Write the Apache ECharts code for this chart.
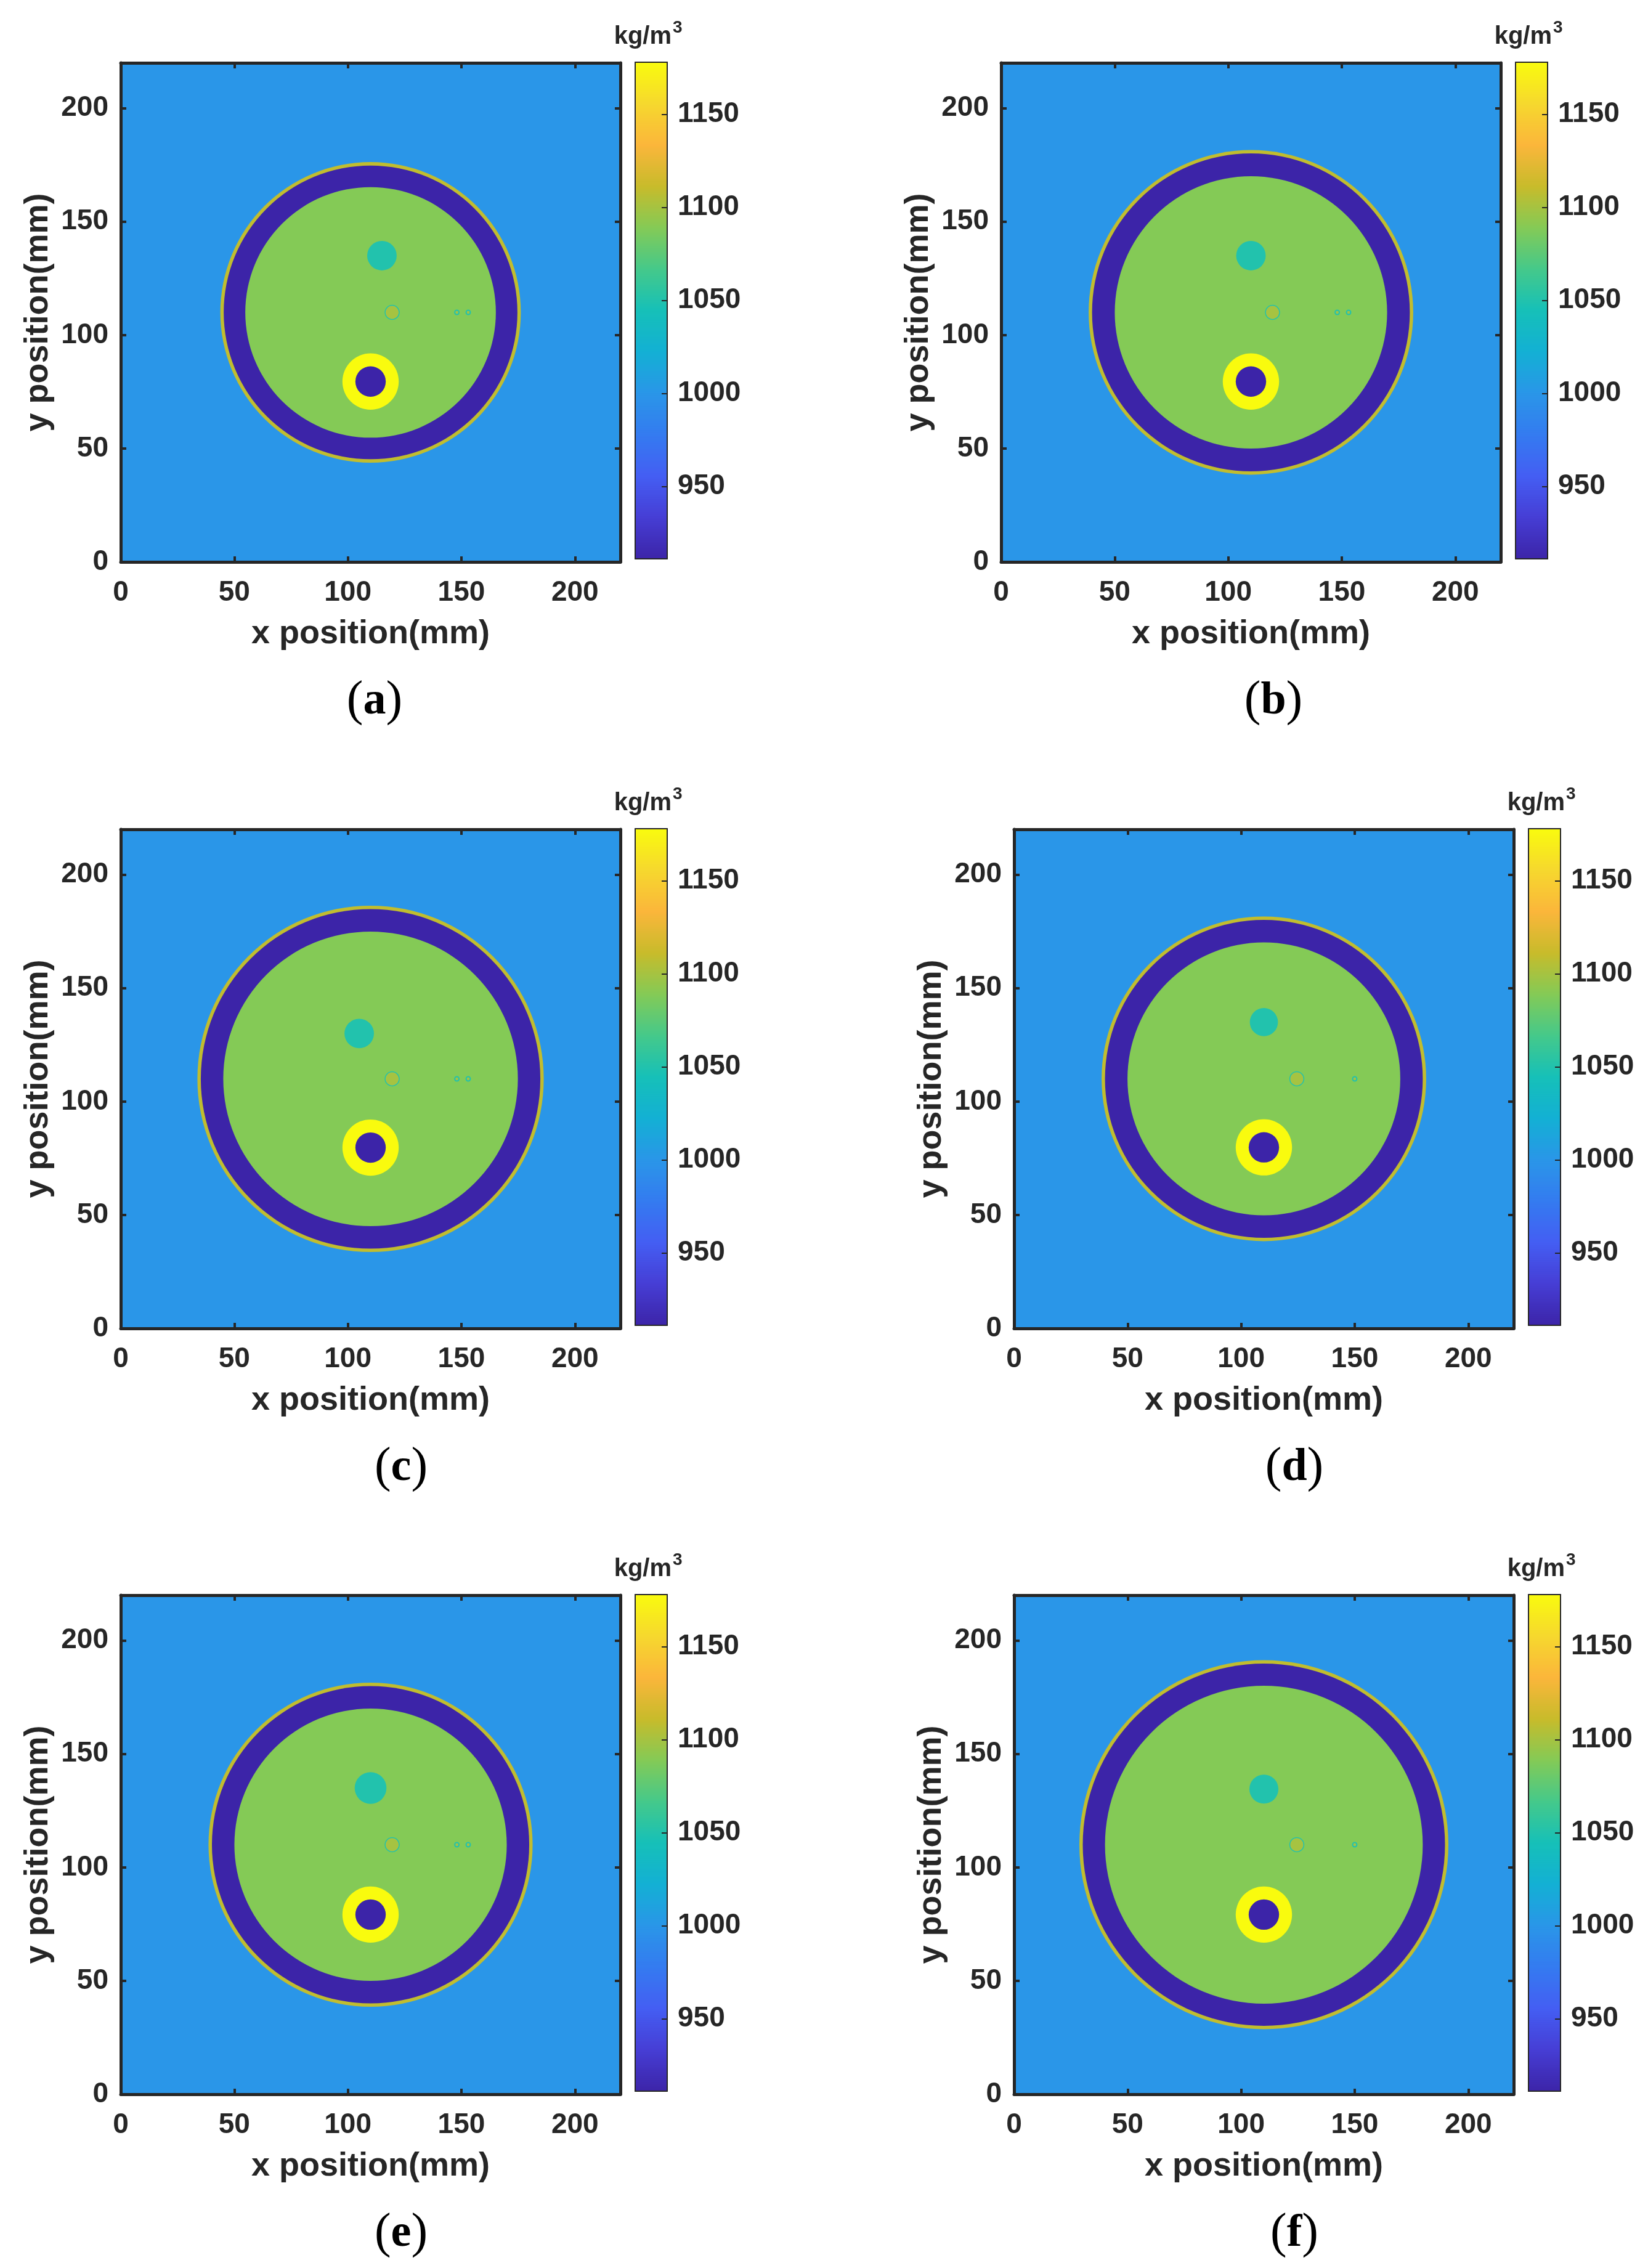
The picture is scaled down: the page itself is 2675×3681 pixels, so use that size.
<!DOCTYPE html>
<html>
<head>
<meta charset="utf-8">
<title>density maps</title>
<script src="https://cdn.jsdelivr.net/npm/echarts@6.0.0/dist/echarts.min.js"></script>
<style>
html, body { margin: 0; padding: 0; background: #fff; }
#mainDiv { width: 2675px; height: 3681px; }
</style>
</head>
<body>
<div id="mainDiv"></div>
<script>
// ---- data ----
var panelLabels = ['a', 'b', 'c', 'd', 'e', 'f'];
var axisRange = [0, 220];          // mm
var axisTicks = [0, 50, 100, 150, 200];
var cbarRange = [911, 1178];       // kg/m^3
var cbarTicks = [950, 1000, 1050, 1100, 1150];

// tissue densities (kg/m^3)
var tissueNames   = ['water', 'skin', 'fat', 'gland', 'cyst', 'nodule', 'bone', 'marrow'];
var tissueDensity = [1000,    1109,   911,   1089,    1050,   1100,     1178,   911];

// geometry (mm)
var bodyX   = [110, 110, 110, 110, 110, 110];
var bodyY   = [110, 110, 110, 110, 110, 110];
var skinR   = [66.2, 71.5, 76.3, 71.5, 71.4, 81.3];
var fatR    = [64.7, 70.0, 74.8, 70.0, 69.9, 79.8];
var glandR  = [55.2, 60.0, 64.9, 60.1, 60.0, 70.0];
var cystX   = [115, 110, 105, 110, 110, 110];
var cystY   = [135, 135, 130, 135, 135, 134.5];
var cystR   = [6.5, 6.5, 6.5, 6.2, 7.0, 6.4];
var noduleX = [119.5, 119.5, 119.5, 124.5, 119.5, 124.5];
var noduleY = [110, 110, 110, 110, 110, 110];
var noduleR = [3.3, 3.3, 3.3, 3.3, 3.3, 3.3];
var microX  = [[148, 153], [148, 153], [148, 153], [150], [148, 153], [150]];
var microY  = [110, 110, 110, 110, 110, 110];
var microR  = [1.2, 1.2, 1.2, 1.2, 1.2, 1.2];
var boneX   = [110, 110, 110, 110, 110, 110];
var boneY   = [79.5, 79.5, 79.7, 79.8, 79.2, 79.2];
var boneR   = [12.4, 12.4, 12.4, 12.4, 12.4, 12.4];
var marrowR = [6.7, 6.7, 6.7, 6.7, 6.7, 6.7];

// ---- layout ----
var plotLeft = [196, 1625, 196, 1646, 196, 1646];
var plotTop  = [102, 102, 1346, 1346, 2589, 2589];
var captionDx = [412, 442, 455, 455, 455, 455];
var PLOT_W = 811, PLOT_H = 810;
var CB_GAP = 24, CB_W = 52, CB_H = 806;
var INK = '#262626';
var FONT = '"Liberation Sans", Arial, sans-serif';
var parula = ['#3c24a8', '#463ed5', '#445ef3', '#347bf0', '#2a96e8', '#13b0d4', '#16c0b8',
              '#45c98a', '#84ca56', '#c8bb2b', '#fbb63b', '#f6d82e', '#f9fb0e'];

function rho(name) {
	return tissueDensity[tissueNames.indexOf(name)];
}

/*每个面板的组织圆*/
function tissueItems(i) {
	var items = [
		[rho('skin'), bodyX[i], bodyY[i], skinR[i]],
		[rho('fat'), bodyX[i], bodyY[i], fatR[i]],
		[rho('gland'), bodyX[i], bodyY[i], glandR[i]],
		[rho('cyst'), cystX[i], cystY[i], cystR[i]],
		[rho('cyst'), noduleX[i], noduleY[i], noduleR[i]],
		[rho('nodule'), noduleX[i], noduleY[i], noduleR[i] - 0.4]
	];
	for (var k = 0; k < microX[i].length; k++) {
		items.push([rho('cyst'), microX[i][k], microY[i], microR[i]]);
		items.push([rho('nodule'), microX[i][k], microY[i], microR[i] * 0.55]);
	}
	items.push([rho('bone'), boneX[i], boneY[i], boneR[i]]);
	items.push([rho('marrow'), boneX[i], boneY[i], marrowR[i]]);
	return items;
}

// colorbar strip: one cell per kg/m^3
var cbarCells = [];
for (var v = cbarRange[0]; v < cbarRange[1]; v++) {
	cbarCells.push([v + 0.5, 0, v, 1, v + 1.4]);
}

function renderRect(params, api) {
	var p0 = api.coord([api.value(1), api.value(4)]);
	var p1 = api.coord([api.value(3), api.value(2)]);
	return {
		type: 'rect',
		shape: { x: p0[0], y: p0[1], width: p1[0] - p0[0], height: p1[1] - p0[1] },
		style: { fill: api.visual('color') }
	};
}

function renderDisc(params, api) {
	var c = api.coord([api.value(1), api.value(2)]);
	var s = api.size([api.value(3), api.value(3)]);
	return {
		type: 'circle',
		shape: { cx: c[0], cy: c[1], r: (s[0] + s[1]) / 2 },
		style: { fill: api.visual('color') }
	};
}

var labelStyle = { fontSize: 46, fontWeight: 'bold', fontFamily: FONT, color: INK,
	formatter: function (val) { return String(val); } };

function frameAxis(gridIndex, position, min, max, width) {
	return {
		type: 'value', gridIndex: gridIndex, position: position, min: min, max: max, z: 5,
		axisLine: { show: true, onZero: false, lineStyle: { color: INK, width: width } },
		axisTick: { show: false }, axisLabel: { show: false }, splitLine: { show: false }
	};
}

function plotAxis(gridIndex, position, showLabel, name, nameGap, margin) {
	var ax = frameAxis(gridIndex, position, axisRange[0], axisRange[1], 5);
	ax.interval = 50;
	ax.axisTick = { show: true, inside: true, length: 9, lineStyle: { color: INK, width: 4 } };
	ax.axisLabel = Object.assign({ show: showLabel, margin: margin, showMaxLabel: false }, labelStyle);
	if (name) {
		ax.name = name;
		ax.nameLocation = 'middle';
		ax.nameGap = nameGap;
		ax.nameTextStyle = { fontSize: 54, fontWeight: 'bold', fontFamily: FONT, color: INK };
	}
	return ax;
}

var grids = [], xAxes = [], yAxes = [], series = [], graphics = [];

for (var i = 0; i < 6; i++) {
	var gMain = grids.length;
	grids.push({ left: plotLeft[i], top: plotTop[i], width: PLOT_W, height: PLOT_H });
	var cbLeft = plotLeft[i] + PLOT_W + CB_GAP;
	var gBar = grids.length;
	grids.push({ left: cbLeft, top: plotTop[i] - 1, width: CB_W, height: CB_H });

	var xMain = xAxes.length;
	xAxes.push(plotAxis(gMain, 'bottom', true, 'x position(mm)', 90, 27));
	xAxes.push(plotAxis(gMain, 'top', false));
	var yMain = yAxes.length;
	yAxes.push(plotAxis(gMain, 'left', true, 'y position(mm)', 107, 20));
	yAxes.push(plotAxis(gMain, 'right', false));

	var xBar = xAxes.length;
	xAxes.push(frameAxis(gBar, 'bottom', 0, 1, 2));
	xAxes.push(frameAxis(gBar, 'top', 0, 1, 2));
	yAxes.push(frameAxis(gBar, 'left', cbarRange[0], cbarRange[1], 2));
	var yBar = yAxes.length;
	var cbAxis = frameAxis(gBar, 'right', cbarRange[0], cbarRange[1], 2);
	cbAxis.axisTick = { show: true, inside: true, length: 9, customValues: cbarTicks,
		lineStyle: { color: INK, width: 2 } };
	cbAxis.axisLabel = Object.assign({ show: true, margin: 17, customValues: cbarTicks }, labelStyle);
	yAxes.push(cbAxis);

	series.push({
		type: 'custom', xAxisIndex: xMain, yAxisIndex: yMain, clip: true,
		encode: { x: 1, y: 2 }, renderItem: renderRect,
		data: [[rho('water'), axisRange[0], axisRange[0], axisRange[1], axisRange[1]]]
	});
	series.push({
		type: 'custom', xAxisIndex: xMain, yAxisIndex: yMain, clip: true,
		encode: { x: 1, y: 2 }, renderItem: renderDisc,
		data: tissueItems(i)
	});
	series.push({
		type: 'custom', xAxisIndex: xBar, yAxisIndex: yBar, clip: true,
		encode: { x: 1, y: 2 }, renderItem: renderRect,
		data: cbarCells
	});

	// colorbar unit: kg/m^3
	graphics.push({
		type: 'text', x: cbLeft + 59, y: plotTop[i] - 42, z: 10,
		style: { text: 'kg/m', fill: INK, font: 'bold 40px ' + FONT,
			align: 'right', verticalAlign: 'middle' }
	});
	graphics.push({
		type: 'text', x: cbLeft + 61, y: plotTop[i] - 57, z: 10,
		style: { text: '3', fill: INK, font: 'bold 28px ' + FONT,
			align: 'left', verticalAlign: 'middle' }
	});
	graphics.push({
		type: 'text', x: plotLeft[i] + captionDx[i], y: plotTop[i] + 1037, z: 10,
		style: {
			text: '{p|(}{l|' + panelLabels[i] + '}{p|)}',
			fill: '#000', align: 'center', verticalAlign: 'middle',
			rich: {
				p: { fontFamily: '"Liberation Serif", serif', fontSize: 80, fill: '#000' },
				l: { fontFamily: '"Liberation Serif", serif', fontSize: 74, fontWeight: 'bold', fill: '#000' }
			}
		}
	});
}

var seriesIdx = series.map(function (s, k) { return k; });

var myChart = echarts.init(document.getElementById('mainDiv'));
myChart.setOption({
	animation: false,
	backgroundColor: '#ffffff',
	grid: grids,
	xAxis: xAxes,
	yAxis: yAxes,
	visualMap: [{
		type: 'continuous', show: false, dimension: 0, seriesIndex: seriesIdx,
		min: cbarRange[0], max: cbarRange[1],
		inRange: { color: parula }
	}],
	series: series,
	graphic: graphics
});
</script>
</body>
</html>
